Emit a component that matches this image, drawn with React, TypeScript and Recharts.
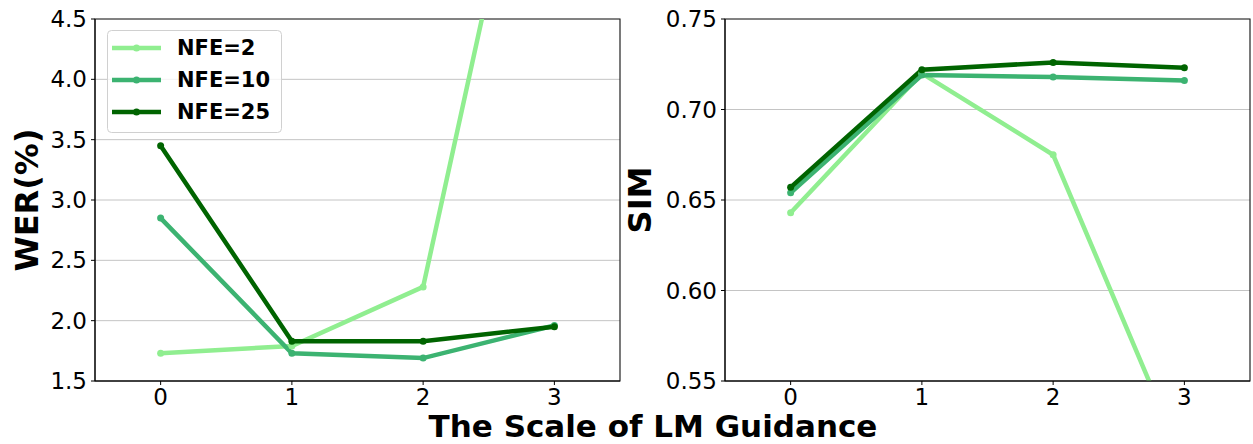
import {
  CartesianGrid,
  Line,
  LineChart,
  ReferenceArea,
  XAxis,
  YAxis,
} from "recharts";

const scales = [0, 1, 2, 3];
const xTicks = [0, 1, 2, 3];

const werNfe2 = [1.73, 1.79, 2.28, 7.24];
const werNfe10 = [2.85, 1.73, 1.69, 1.96];
const werNfe25 = [3.45, 1.83, 1.83, 1.95];
const werTicks = [1.5, 2.0, 2.5, 3.0, 3.5, 4.0, 4.5];

const simNfe2 = [0.643, 0.72, 0.675, 0.504];
const simNfe10 = [0.654, 0.719, 0.718, 0.716];
const simNfe25 = [0.657, 0.722, 0.726, 0.723];
const simTicks = [0.55, 0.6, 0.65, 0.7, 0.75];

const seriesNames = ["NFE=2", "NFE=10", "NFE=25"];
const seriesKeys = ["nfe2", "nfe10", "nfe25"];
const colors = ["#90EE90", "#3CB371", "#006400"];

const FONT = "DejaVu Sans";

const werData = scales.map((s, i) => ({
  scale: s,
  nfe2: werNfe2[i],
  nfe10: werNfe10[i],
  nfe25: werNfe25[i],
}));

const simData = scales.map((s, i) => ({
  scale: s,
  nfe2: simNfe2[i],
  nfe10: simNfe10[i],
  nfe25: simNfe25[i],
}));

function LegendBox() {
  return (
    <svg width={176} height={104} style={{ display: "block" }}>
      <rect
        x={0.5}
        y={0.5}
        width={174}
        height={102}
        rx={4}
        fill="rgba(255,255,255,0.8)"
        stroke="#d0d0d0"
      />
      {seriesNames.map((name, i) => {
        const cy = 18 + i * 32;
        return (
          <g key={name}>
            <line x1={5} x2={54} y1={cy} y2={cy} stroke={colors[i]} strokeWidth={4.5} />
            <circle cx={29.5} cy={cy} r={3.5} fill={colors[i]} />
            <text
              x={70}
              y={cy}
              dominantBaseline="central"
              fontFamily={FONT}
              fontWeight="bold"
              fontSize={21}
              fill="#000"
            >
              {name}
            </text>
          </g>
        );
      })}
    </svg>
  );
}

function yLabel(text: string, cx: number) {
  return (props: any) => {
    const vb = props.viewBox || {};
    const cy = (vb.y ?? 19) + (vb.height ?? 362) / 2;
    return (
      <text
        x={cx}
        y={cy}
        transform={`rotate(-90, ${cx}, ${cy})`}
        textAnchor="middle"
        dominantBaseline="central"
        fontFamily={FONT}
        fontWeight="bold"
        fontSize={32}
        fill="#000"
      >
        {text}
      </text>
    );
  };
}

interface PanelProps {
  data: typeof werData;
  width: number;
  yWidth: number;
  rightMargin: number;
  domain: [number, number];
  ticks: number[];
  digits: number;
  label: string;
  labelX: number;
}

function Panel({
  data,
  width,
  yWidth,
  rightMargin,
  domain,
  ticks,
  digits,
  label,
  labelX,
}: PanelProps) {
  const tickStyle = { fontFamily: FONT, fontSize: 23, fill: "#000" };
  return (
    <LineChart
      width={width}
      height={444}
      data={data}
      margin={{ top: 19, right: rightMargin, left: 0, bottom: 0 }}
    >
      <CartesianGrid vertical={false} stroke="#c4c4c4" strokeWidth={1} />
      <XAxis
        dataKey="scale"
        type="number"
        domain={[-0.5, 3.5]}
        ticks={xTicks}
        allowDataOverflow
        height={63}
        tick={tickStyle}
        tickSize={4}
        tickMargin={4}
        stroke="#000"
      />
      <YAxis
        type="number"
        domain={domain}
        ticks={ticks}
        allowDataOverflow
        width={yWidth}
        tick={tickStyle}
        tickSize={4}
        tickMargin={4}
        stroke="#000"
        tickFormatter={(v: number) => v.toFixed(digits)}
        label={{ content: yLabel(label, labelX) }}
      />
      <ReferenceArea
        x1={-0.5}
        x2={3.5}
        y1={domain[0]}
        y2={domain[1]}
        fill="none"
        stroke="#222"
        strokeWidth={1.2}
        ifOverflow="visible"
      />
      {seriesKeys.map((k, i) => (
        <Line
          key={k}
          dataKey={k}
          type="linear"
          stroke={colors[i]}
          strokeWidth={4.5}
          dot={{ r: 3.5, fill: colors[i], stroke: colors[i], strokeWidth: 0 }}
          activeDot={false}
          isAnimationActive={false}
        />
      ))}
    </LineChart>
  );
}

export default function App() {
  return (
    <div
      style={{
        position: "absolute",
        left: 0,
        top: 0,
        width: 1253,
        height: 444,
        background: "#fff",
        overflow: "hidden",
      }}
    >
      <div style={{ position: "absolute", left: 0, top: 0 }}>
        <Panel
          data={werData}
          width={622}
          yWidth={95}
          rightMargin={2}
          domain={[1.5, 4.5]}
          ticks={werTicks}
          digits={1}
          label="WER(%)"
          labelX={27}
        />
      </div>
      <div style={{ position: "absolute", left: 107, top: 30 }}>
        <LegendBox />
      </div>
      <div style={{ position: "absolute", left: 622, top: 0 }}>
        <Panel
          data={simData}
          width={631}
          yWidth={103}
          rightMargin={3}
          domain={[0.55, 0.75]}
          ticks={simTicks}
          digits={2}
          label="SIM"
          labelX={18}
        />
      </div>
      <svg
        width={1253}
        height={444}
        style={{ position: "absolute", left: 0, top: 0, pointerEvents: "none" }}
      >
        <text
          x={653}
          y={437}
          textAnchor="middle"
          fontFamily={FONT}
          fontWeight="bold"
          fontSize={31}
          fill="#000"
        >
          The Scale of LM Guidance
        </text>
      </svg>
    </div>
  );
}
